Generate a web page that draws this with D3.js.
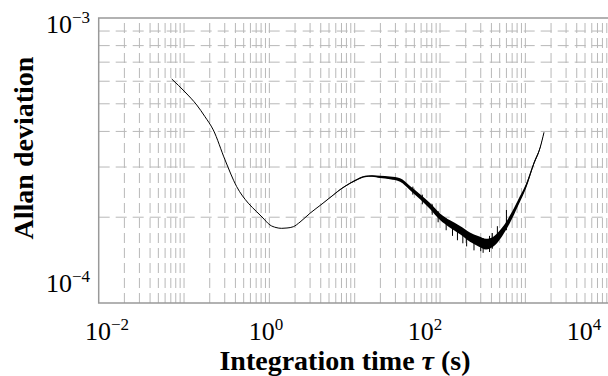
<!DOCTYPE html>
<html>
<head>
<meta charset="utf-8">
<script src="https://cdn.jsdelivr.net/npm/d3@7"></script>
<style>
  body { margin: 0; background: #fff; }
</style>
</head>
<body>
<script>
// averaging time tau (s)
const tauVals = [0.0717, 0.1027, 0.141, 0.176, 0.220, 0.302, 0.414, 0.566, 0.711, 0.842,
  1.017, 1.196, 1.395, 1.609, 1.908, 2.286, 2.99, 4.14, 5.61, 6.91,
  8.81, 10.94, 13.2, 15.95, 19.8, 25.9, 34.0, 44.5, 58.3, 76.3,
  100, 131, 171.5, 224, 279, 346, 429, 532, 661, 820,
  1018, 1263, 1485, 1654];
// Allan deviation (centre of the trace)
const sigmaVals = [6.11e-4, 5.50e-4, 4.95e-4, 4.505e-4, 4.05e-4, 3.18e-4, 2.56e-4, 2.24e-4, 2.09e-4, 1.987e-4,
  1.878e-4, 1.840e-4, 1.828e-4, 1.833e-4, 1.852e-4, 1.923e-4, 2.064e-4, 2.226e-4, 2.393e-4, 2.512e-4,
  2.630e-4, 2.723e-4, 2.779e-4, 2.790e-4, 2.768e-4, 2.746e-4, 2.702e-4, 2.532e-4, 2.360e-4, 2.190e-4,
  2.008e-4, 1.893e-4, 1.803e-4, 1.704e-4, 1.650e-4, 1.611e-4, 1.650e-4, 1.774e-4, 1.971e-4, 2.244e-4,
  2.573e-4, 3.098e-4, 3.498e-4, 3.972e-4];
// relative half width of the noisy band around the trace
const spreadVals = [0, 0, 0, 0, 0, 0, 0, 0, 0, 0,
  0, 0, 0, 0, 0, 0, 0, 0, 0.002, 0.003,
  0.004, 0.005, 0.006, 0.007, 0.009, 0.011, 0.014, 0.017, 0.02, 0.024,
  0.027, 0.03, 0.034, 0.038, 0.041, 0.043, 0.04, 0.035, 0.03, 0.024,
  0.018, 0.012, 0.008, 0];
// single spikes sticking out of the band: tau, low and high deviation
const spikeTau = [48, 62, 81, 95, 118, 140, 160, 185, 205, 250, 300, 320, 380, 410, 470, 600];
const spikeLo = [2.40e-4, 2.22e-4, 2.04e-4, 1.92e-4, 1.80e-4, 1.72e-4, 1.66e-4, 1.62e-4, 1.58e-4, 1.53e-4, 1.52e-4, 1.50e-4, 1.51e-4, 1.55e-4, 1.64e-4, 1.80e-4];
const spikeHi = [2.56e-4, 2.40e-4, 2.22e-4, 2.10e-4, 1.98e-4, 1.90e-4, 1.83e-4, 1.78e-4, 1.74e-4, 1.72e-4, 1.70e-4, 1.69e-4, 1.72e-4, 1.76e-4, 1.86e-4, 2.12e-4];

const xDomain = [1e-2, 1e4];
const yDomain = [1e-4, 1e-3];
const xTickExp = [-2, 0, 2, 4];
const yTickExp = [-3, -4];
const xMinor = [];
for (let k = -2; k < 4; k++) for (let m = 1; m < 10; m++) if (!(k === -2 && m === 1)) xMinor.push(m * Math.pow(10, k));
const yMinor = [2e-4, 3e-4, 4e-4, 5e-4, 6e-4, 7e-4, 8e-4, 9e-4];

const svgWidth = 608, svgHeight = 376;
const plot = {left: 98.7, right: 610.7, top: 18, bottom: 303};
const serif = "'Liberation Serif', 'Times New Roman', Times, serif";

const svg = d3.select("body").append("svg")
  .attr("width", svgWidth)
  .attr("height", svgHeight)
  .attr("font-family", serif)
  .style("font-family", serif);

const x = d3.scaleLog().domain(xDomain).range([plot.left, plot.right]);
const y = d3.scaleLog().domain(yDomain).range([plot.bottom, plot.top]);

// tick labels sit a little off the ticks in the original figure
const xLab = d3.scaleLog().domain(xDomain).range([107, 584]);
const yLab = d3.scaleLog().domain(yDomain).range([292, 33]);

const gridColor = "#b8b8b8";

// vertical grid
svg.append("g").selectAll("line")
  .data(xMinor)
  .enter().append("line")
  .attr("x1", d => x(d)).attr("x2", d => x(d))
  .attr("y1", plot.bottom).attr("y2", plot.top)
  .attr("stroke", gridColor)
  .attr("stroke-width", 1)
  .attr("stroke-dasharray", "10,5");

// horizontal grid
svg.append("g").selectAll("line")
  .data(yMinor)
  .enter().append("line")
  .attr("x1", plot.left).attr("x2", plot.right)
  .attr("y1", d => y(d)).attr("y2", d => y(d))
  .attr("stroke", gridColor)
  .attr("stroke-width", 1)
  .attr("stroke-dasharray", "11,6");

// axes box
svg.append("rect")
  .attr("x", plot.left).attr("y", plot.top)
  .attr("width", plot.right - plot.left)
  .attr("height", plot.bottom - plot.top)
  .attr("fill", "none")
  .attr("stroke", "#999")
  .attr("stroke-width", 1.5);

const pts = tauVals.map((t, i) => ({t: t, s: sigmaVals[i], w: spreadVals[i]}));

// noisy band
const band = d3.area()
  .x(d => x(d.t))
  .y0(d => y(d.s * (1 - d.w)))
  .y1(d => y(d.s * (1 + d.w)))
  .curve(d3.curveMonotoneX);

svg.append("path")
  .datum(pts)
  .attr("d", band)
  .attr("fill", "#000")
  .attr("stroke", "none");

svg.append("g").selectAll("line")
  .data(spikeTau)
  .enter().append("line")
  .attr("x1", d => x(d)).attr("x2", d => x(d))
  .attr("y1", (d, i) => y(spikeLo[i]))
  .attr("y2", (d, i) => y(spikeHi[i]))
  .attr("stroke", "#000")
  .attr("stroke-width", 1);

const line = d3.line()
  .x(d => x(d.t))
  .y(d => y(d.s))
  .curve(d3.curveMonotoneX);

svg.append("path")
  .datum(pts)
  .attr("d", line)
  .attr("fill", "none")
  .attr("stroke", "#000")
  .attr("stroke-width", 1);

// tick labels with superscripts
function powLabel(sel, e) {
  sel.append("tspan").text("10");
  sel.append("tspan")
    .attr("dy", -10)
    .attr("font-size", 17)
    .text(e < 0 ? "\u2212" + (-e) : String(e));
}

svg.append("g").selectAll("text")
  .data(xTickExp)
  .enter().append("text")
  .attr("x", d => xLab(Math.pow(10, d)))
  .attr("y", 340)
  .attr("text-anchor", "middle")
  .attr("font-size", 26)
  .each(function(d) { powLabel(d3.select(this), d); });

svg.append("g").selectAll("text")
  .data(yTickExp)
  .enter().append("text")
  .attr("x", 90)
  .attr("y", d => yLab(Math.pow(10, d)))
  .attr("text-anchor", "end")
  .attr("font-size", 26)
  .each(function(d) { powLabel(d3.select(this), d); });

// axis titles
const xt = svg.append("text")
  .attr("x", 345)
  .attr("y", 370)
  .attr("text-anchor", "middle")
  .attr("font-size", 28)
  .attr("font-weight", "bold");
xt.append("tspan").text("Integration time ");
xt.append("tspan").attr("font-style", "italic").text("\u03c4");
xt.append("tspan").text(" (s)");

svg.append("text")
  .attr("transform", "translate(33,148) rotate(-90)")
  .attr("text-anchor", "middle")
  .attr("font-size", 28)
  .attr("font-weight", "bold")
  .text("Allan deviation");
</script>
</body>
</html>
